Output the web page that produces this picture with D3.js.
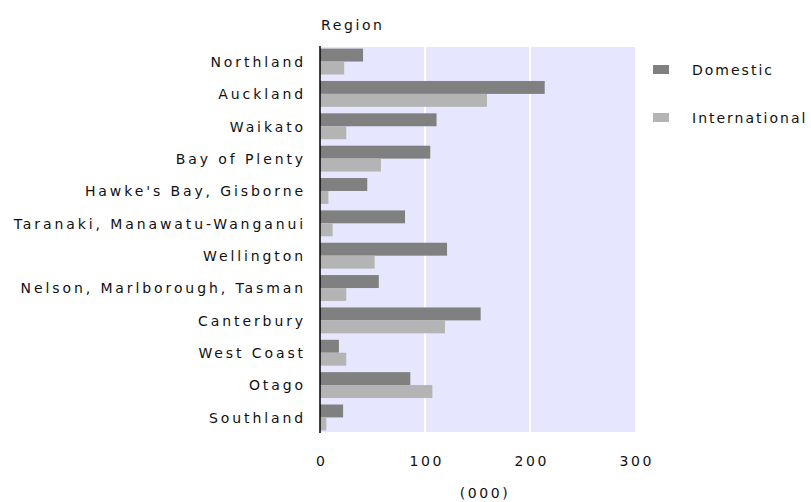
<!DOCTYPE html>
<html>
<head>
<meta charset="utf-8">
<script src="https://cdn.jsdelivr.net/npm/d3@7"></script>
<style>
  body { margin: 0; background: #fff; }
  text { font-family: "DejaVu Sans", sans-serif; font-size: 14px; letter-spacing: 2.6px; fill: #111; }
  .legend text { letter-spacing: 2px; }
  .y-labels text { letter-spacing: 2.9px; }
</style>
</head>
<body>
<svg id="chart"></svg>
<script>
// data, values in (000)
var regions = ["Northland", "Auckland", "Waikato", "Bay of Plenty", "Hawke's Bay, Gisborne",
  "Taranaki, Manawatu-Wanganui", "Wellington", "Nelson, Marlborough, Tasman", "Canterbury",
  "West Coast", "Otago", "Southland"];
var series = ["Domestic", "International"];
var domestic = [41, 214, 111, 105, 45, 81, 121, 56, 153, 18, 86, 22];
var international = [23, 159, 25, 58, 8, 12, 52, 25, 119, 25, 107, 6];
var xTicks = [0, 100, 200, 300];

var totalWidth = 811, totalHeight = 502;
var margin = {top: 47, right: 176, bottom: 70, left: 320};
var width = totalWidth - margin.left - margin.right,
    height = totalHeight - margin.top - margin.bottom;

var svg = d3.select("#chart")
  .attr("width", totalWidth)
  .attr("height", totalHeight);

var plot = svg.append("g")
  .attr("transform", "translate(" + margin.left + "," + margin.top + ")");

// build rows for the grouped bars
var rows = regions.map(function(r, i) {
  return {region: r, Domestic: domestic[i], International: international[i]};
});

var color = d3.scaleOrdinal()
  .domain(series)
  .range(["#808080", "#b4b4b4"]);

// scales
var x = d3.scaleLinear()
  .domain([0, 300])
  .range([0, width]);

var y = d3.scaleBand()
  .domain(regions)
  .range([0, height])
  .paddingInner(0.2)
  .paddingOuter(0.05);

var ySub = d3.scaleBand()
  .domain(series)
  .range([0, y.bandwidth()]);

// plot background
plot.append("rect")
  .attr("x", 0)
  .attr("y", 0)
  .attr("width", width)
  .attr("height", height)
  .attr("fill", "#e6e6ff");

// white gridlines
plot.append("g")
  .selectAll("line")
  .data(xTicks.filter(function(d) { return d > 0 && d < 300; }))
  .enter().append("line")
  .attr("x1", function(d) { return x(d); })
  .attr("x2", function(d) { return x(d); })
  .attr("y1", 0)
  .attr("y2", height)
  .attr("stroke", "#fff")
  .attr("stroke-width", 2);

// bars
var groups = plot.append("g")
  .selectAll("g")
  .data(rows)
  .enter().append("g")
  .attr("transform", function(d) { return "translate(0," + y(d.region) + ")"; });

groups.selectAll("rect")
  .data(function(d) { return series.map(function(s) { return {key: s, value: d[s]}; }); })
  .enter().append("rect")
  .attr("x", x(0))
  .attr("y", function(d) { return ySub(d.key); })
  .attr("width", function(d) { return x(d.value) - x(0); })
  .attr("height", ySub.bandwidth())
  .attr("fill", function(d) { return color(d.key); });

// y axis: labels only plus a black line
var yAxis = plot.append("g")
  .attr("class", "y-labels")
  .call(d3.axisLeft(y).tickSize(0).tickPadding(14));
yAxis.select(".domain").remove();
yAxis.selectAll("text")
  .attr("fill", "#111")
  .style("font-family", "DejaVu Sans, sans-serif")
  .style("font-size", "14px")
  .attr("dy", "0.38em");

plot.append("line")
  .attr("x1", 0)
  .attr("x2", 0)
  .attr("y1", -1)
  .attr("y2", height + 1)
  .attr("stroke", "#000")
  .attr("stroke-width", 1.5);

// x axis: tick labels only
var xAxis = plot.append("g")
  .attr("transform", "translate(0," + height + ")")
  .call(d3.axisBottom(x).tickValues(xTicks).tickSize(0).tickPadding(24));
xAxis.select(".domain").remove();
xAxis.selectAll("text")
  .attr("fill", "#111")
  .attr("dx", "1.3")
  .style("font-family", "DejaVu Sans, sans-serif")
  .style("font-size", "14px");

// axis titles
svg.append("text")
  .attr("x", 321)
  .attr("y", 30)
  .text("Region");

svg.append("text")
  .attr("x", 485)
  .attr("y", 498)
  .attr("text-anchor", "middle")
  .text("(000)");

// legend
var legend = svg.append("g")
  .attr("class", "legend")
  .selectAll("g")
  .data(series)
  .enter().append("g")
  .attr("transform", function(d, i) { return "translate(653," + (65 + i * 48) + ")"; });

legend.append("rect")
  .attr("width", 16)
  .attr("height", 9)
  .attr("fill", function(d) { return color(d); });

legend.append("text")
  .attr("x", 39)
  .attr("y", 10)
  .text(function(d) { return d; });
</script>
</body>
</html>
